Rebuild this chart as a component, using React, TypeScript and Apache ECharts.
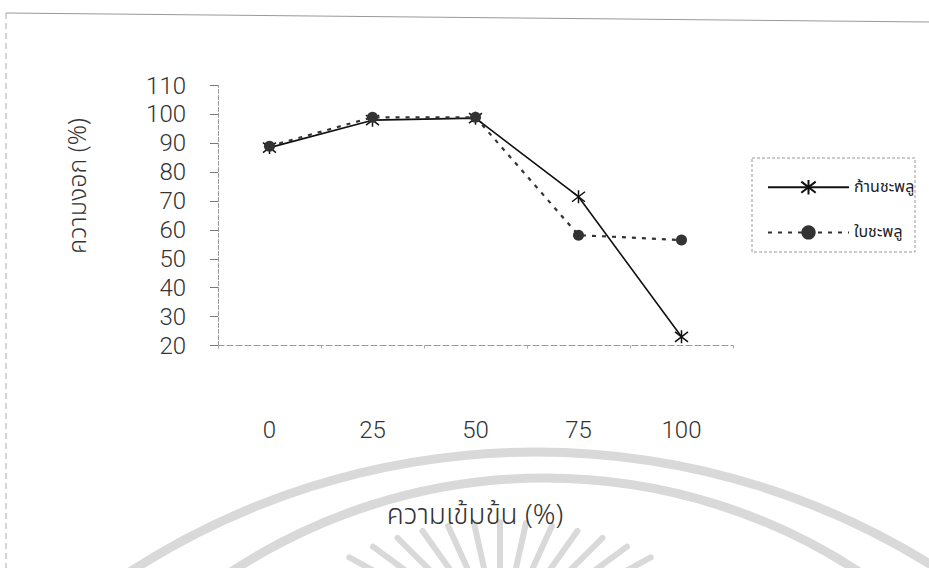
import React, { useEffect, useRef } from "react";
import * as echarts from "echarts";

const categories = ["0", "25", "50", "75", "100"];
const stemValues = [88.5, 98, 98.7, 71.5, 23];
const leafValues = [89, 99, 99, 58.2, 56.5];
const seriesNames = ["ก้านชะพลู", "ใบชะพลู"];
const xTitle = "ความเข้มข้น (%)";
const yTitle = "ความงอก (%)";

const STAR = "path://M-1,-1L1,1M-1,1L1,-1M0,-1.3L0,1.3";
const NUM_FONT = "Roboto, 'Liberation Sans', Arial, sans-serif";
const THAI_FONT = "'Noto Sans Thai', 'Noto Sans', 'DejaVu Sans', sans-serif";

function watermark(): any[] {
  const color = "#d9d9d9";
  const items: any[] = [
    {
      type: "arc",
      silent: true,
      z: -10,
      shape: { cx: 536, cy: 1200, r: 748, startAngle: Math.PI * 1.1, endAngle: Math.PI * 1.9 },
      style: { stroke: color, lineWidth: 9, fill: "none" },
    },
    {
      type: "arc",
      silent: true,
      z: -10,
      shape: { cx: 545, cy: 1050, r: 572, startAngle: Math.PI * 1.1, endAngle: Math.PI * 1.9 },
      style: { stroke: color, lineWidth: 9, fill: "none" },
    },
  ];
  const tcx = 500;
  const tcy = 861;
  const tr = 339;
  const fx = 500;
  const fy = 640;
  for (let i = -6; i <= 6; i++) {
    const a = (i * 4.4 * Math.PI) / 180;
    const x1 = tcx + Math.sin(a) * tr;
    const y1 = tcy - Math.cos(a) * tr;
    const dx = fx - x1;
    const dy = fy - y1;
    const len = Math.sqrt(dx * dx + dy * dy);
    const L = 80;
    items.push({
      type: "line",
      silent: true,
      z: -10,
      shape: { x1, y1, x2: x1 + (dx / len) * L, y2: y1 + (dy / len) * L },
      style: { stroke: color, lineWidth: 6, lineCap: "round" },
    });
  }
  return items;
}

export default function App() {
  const ref = useRef<HTMLDivElement>(null);
  useEffect(() => {
    if (!ref.current) return;
    const chart = echarts.init(ref.current, undefined, { renderer: "svg" });
    chart.setOption({
      animation: false,
      backgroundColor: "#ffffff",
      grid: { left: 218, top: 85.5, width: 515, height: 260, containLabel: false },
      legend: {
        orient: "vertical",
        left: 762,
        top: 174,
        itemWidth: 81,
        itemHeight: 18,
        itemGap: 29,
        textStyle: { fontSize: 16, color: "#222", fontFamily: THAI_FONT },
        data: seriesNames,
      },
      xAxis: {
        type: "category",
        data: categories,
        boundaryGap: true,
        axisLine: { show: true, lineStyle: { color: "#999", width: 1, type: [6, 3] } },
        axisTick: { show: true, length: 3, lineStyle: { color: "#aaa" } },
        axisLabel: { margin: 72, fontSize: 24, fontWeight: 300, color: "#333", fontFamily: NUM_FONT },
        splitLine: { show: false },
      },
      yAxis: {
        type: "value",
        min: 20,
        max: 110,
        interval: 10,
        axisLine: { show: true, lineStyle: { color: "#999", width: 1, type: [4, 2] } },
        axisTick: { show: true, length: 8, lineStyle: { color: "#777" } },
        axisLabel: { margin: 32, fontSize: 24, fontWeight: 300, color: "#333", fontFamily: NUM_FONT },
        splitLine: { show: false },
      },
      series: [
        {
          name: seriesNames[0],
          type: "line",
          data: stemValues,
          symbol: STAR,
          symbolSize: 13,
          lineStyle: { color: "#111", width: 1.6, type: "solid" },
          itemStyle: { color: "#111", borderColor: "#111", borderWidth: 1.5 },
          z: 2,
        },
        {
          name: seriesNames[1],
          type: "line",
          data: leafValues,
          symbol: "circle",
          symbolSize: 11,
          lineStyle: { color: "#333", width: 2.2, type: [4, 6] },
          itemStyle: { color: "#333" },
          z: 3,
        },
      ],
      graphic: [
        ...watermark(),
        {
          type: "line",
          silent: true,
          shape: { x1: 6, y1: 13, x2: 929, y2: 22 },
          style: { stroke: "#999", lineWidth: 1 },
        },
        {
          type: "line",
          silent: true,
          shape: { x1: 6, y1: 13, x2: 6, y2: 568 },
          style: { stroke: "#aaa", lineWidth: 1, lineDash: [6, 4] },
        },
        {
          type: "rect",
          silent: true,
          shape: { x: 752, y: 158, width: 163, height: 94 },
          style: { stroke: "#999", lineWidth: 1, fill: "none", lineDash: [3, 2] },
        },
        {
          type: "text",
          silent: true,
          x: 475,
          y: 515,
          style: {
            text: xTitle,
            fontSize: 28,
            fontWeight: 300,
            fill: "#333",
            fontFamily: THAI_FONT,
            align: "center",
            verticalAlign: "middle",
          },
        },
        {
          type: "text",
          silent: true,
          x: 78,
          y: 186,
          rotation: Math.PI / 2,
          style: {
            text: yTitle,
            fontSize: 25,
            fontWeight: 300,
            fill: "#333",
            fontFamily: THAI_FONT,
            align: "center",
            verticalAlign: "middle",
          },
        },
      ],
    });
    return () => chart.dispose();
  }, []);
  return <div ref={ref} style={{ width: 929, height: 568, position: "absolute", left: 0, top: 0 }} />;
}
